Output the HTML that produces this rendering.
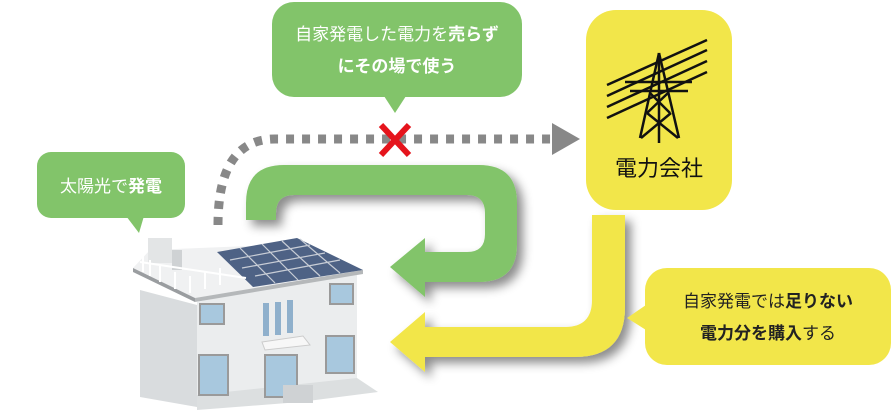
<!DOCTYPE html>
<html><head><meta charset="utf-8"><style>
html,body{margin:0;padding:0;background:#fff;}
body{width:893px;height:411px;overflow:hidden;position:relative;font-family:"Liberation Sans","Noto Sans CJK JP",sans-serif;}
.t{position:absolute;white-space:nowrap;text-align:center;}
</style></head><body>
<svg width="893" height="411" style="position:absolute;left:0;top:0">
<defs>
<filter id="sh" x="-20%" y="-20%" width="150%" height="150%"><feDropShadow dx="6" dy="6" stdDeviation="5" flood-color="#000" flood-opacity="0.45"/></filter>
</defs>
<rect x="272" y="2" width="250" height="95" rx="22" fill="#82c46a"/>
<polygon points="384,96 406,96 395,113" fill="#82c46a"/>
<rect x="37" y="152" width="148" height="66" rx="14" fill="#82c46a"/>
<polygon points="126,216 144,216 139,233" fill="#82c46a"/>
<rect x="586" y="10" width="146" height="200" rx="30" fill="#f2e64a"/>
<g stroke="#111" stroke-width="2.5" fill="none">
<line x1="607" y1="85" x2="707" y2="40"/><line x1="607" y1="96" x2="707" y2="50"/>
<line x1="607" y1="107" x2="707" y2="61"/><line x1="607" y1="118" x2="707" y2="72"/>
<line x1="659" y1="53" x2="640" y2="138"/><line x1="659" y1="53" x2="679" y2="138"/>
<line x1="659" y1="53" x2="659" y2="143"/>
<line x1="625" y1="82" x2="692" y2="82"/><line x1="630" y1="91" x2="688" y2="91"/>
<line x1="650" y1="93" x2="670" y2="113"/><line x1="668" y1="93" x2="647" y2="113"/>
<line x1="647" y1="113" x2="678" y2="138"/><line x1="671" y1="113" x2="641" y2="138"/>
</g>
<path d="M218,225 Q218,139 275,139 L552,139" stroke="#888" stroke-width="9" fill="none" stroke-dasharray="8,8"/>
<polygon points="552,123 580,139 552,155" fill="#888"/>
<g stroke="#e5141c" stroke-width="6"><line x1="381" y1="125" x2="409" y2="155"/><line x1="409" y1="125" x2="381" y2="155"/></g>
<path filter="url(#sh)" fill="#82c46a" d="M246,220 L246,203 Q246,165 284,165 L479,165 Q517,165 517,203 L517,244 Q517,282 479,282 L425,282 L425,297 L390,267 L425,238 L425,252 L467,252 Q485,252 485,234 L485,213 Q485,195 467,195 L294,195 Q276,195 276,213 L276,220 Z"/>
<path filter="url(#sh)" fill="#f2e64a" d="M592,215 L625,215 L625,307 Q625,357 575,357 L425,357 L425,372 L390,342 L425,312 L425,327 L565,327 Q592,327 592,300 Z"/>
<rect x="645" y="268" width="246" height="97" rx="22" fill="#f2e64a"/>
<polygon points="646,305 627,318 646,330" fill="#f2e64a"/>
<!-- house -->
<polygon points="140,290 197,305 197,407 140,397" fill="#d9dcde"/>
<polygon points="197,302 357,270 357,387 197,407" fill="#ebedee"/>
<polygon points="197,395 357,378 378,392 300,402 197,410" fill="#dcdfe0"/>
<polygon points="133,268 195,298 363,270 300,244 150,250" fill="#f0f1f2"/>
<polygon points="133,268 195,298 195,302 133,272" fill="#9a9da0"/>
<polygon points="195,298 363,270 363,274 195,302" fill="#b5b8ba"/>
<polygon points="217,252 297,238 363,270 253,287" fill="#4e6285"/>
<g stroke="#c8cdd6" stroke-width="1.2">
<line x1="230" y1="260" x2="310" y2="245"/><line x1="242" y1="268" x2="325" y2="253"/><line x1="255" y1="276" x2="340" y2="260"/>
<line x1="240" y1="248" x2="275" y2="283"/><line x1="262" y1="244" x2="298" y2="280"/><line x1="282" y1="241" x2="320" y2="276"/><line x1="300" y1="239" x2="340" y2="273"/>
</g>
<rect x="148" y="238" width="24" height="25" fill="#e3e5e6"/>
<rect x="172" y="250" width="10" height="20" fill="#cfd2d4"/>
<g stroke="#fff" stroke-width="2"><line x1="143" y1="255" x2="143" y2="272"/><line x1="150" y1="260" x2="150" y2="276"/><line x1="160" y1="266" x2="160" y2="282"/><line x1="175" y1="272" x2="175" y2="289"/><line x1="190" y1="276" x2="190" y2="293"/><line x1="205" y1="272" x2="205" y2="289"/><line x1="220" y1="268" x2="220" y2="285"/><line x1="140" y1="262" x2="246" y2="278"/></g>
<g fill="#a8c8de" stroke="#9a9a9a" stroke-width="2">
<rect x="200" y="304" width="24" height="20"/><rect x="330" y="284" width="23" height="20"/>
<rect x="199" y="355" width="29" height="40"/><rect x="326" y="336" width="28" height="37"/>
<rect x="265" y="355" width="32" height="42"/>
</g>
<g fill="#8fb0cc"><rect x="263" y="303" width="6" height="33"/><rect x="275" y="302" width="6" height="33"/><rect x="287" y="300" width="6" height="33"/></g>
<polygon points="262,342 303,336 310,345 265,350" fill="#f7f7f7" stroke="#ccc"/>
<rect x="283" y="385" width="30" height="18" fill="#cfd2d4"/>
</svg>
<div class="t" style="left:272px;top:19px;width:250px;font-size:17px;color:#fff;line-height:32px;">自家発電した電力を<b>売らず</b><br><b>にその場で使う</b></div>
<div class="t" style="left:37px;top:172px;width:148px;font-size:17px;color:#fff;">太陽光で<b>発電</b></div>
<div class="t" style="left:586px;top:151px;width:146px;font-size:22px;color:#111;">電力会社</div>
<div class="t" style="left:645px;top:286px;width:246px;font-size:17px;color:#222;line-height:32px;">自家発電では<b>足りない</b><br><b>電力分を購入</b>する</div>
</body></html>
